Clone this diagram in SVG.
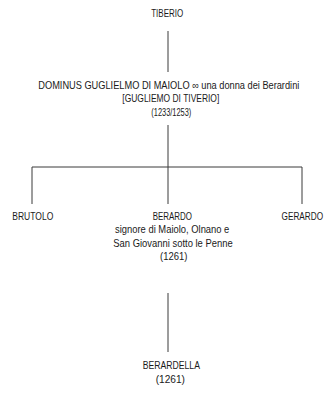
<svg xmlns="http://www.w3.org/2000/svg" width="324" height="393" viewBox="0 0 324 393">
<style>
text{font-family:"Liberation Sans",Arial,sans-serif;font-size:10.4px;fill:#1a1a1a;text-anchor:middle}
.c{stroke:#3a3a3a;stroke-width:1;fill:none}
</style>
<rect width="324" height="393" fill="#fff"/>
<g id="connectors">
<line class="c" x1="168" y1="31" x2="168" y2="72"/>
<line class="c" x1="168" y1="125" x2="168" y2="167"/>
<polyline class="c" points="32,204 32,167 302,167 302,204"/>
<line class="c" x1="168" y1="167" x2="168" y2="204"/>
<line class="c" x1="168" y1="293" x2="168" y2="352"/>
</g>
<g id="tiberio"><text x="167.2" y="17" textLength="32" lengthAdjust="spacingAndGlyphs">TIBERIO</text></g>
<g id="guglielmo">
<text transform="translate(168.8 89) scale(0.89 1)" x="0" y="0" textLength="293.3" lengthAdjust="spacingAndGlyphs">DOMINUS GUGLIELMO DI MAIOLO ∞ una donna dei Berardini</text>
<text x="170.8" y="102" textLength="97" lengthAdjust="spacingAndGlyphs">[GUGLIEMO DI TIVERIO]</text>
<text x="171.3" y="115.5" textLength="40" lengthAdjust="spacingAndGlyphs">(1233/1253)</text>
</g>
<g id="brutolo"><text x="32.8" y="219.5" textLength="41" lengthAdjust="spacingAndGlyphs">BRUTOLO</text></g>
<g id="berardo">
<text x="172.3" y="219.5" textLength="39.3" lengthAdjust="spacingAndGlyphs">BERARDO</text>
<text x="172.2" y="233" textLength="114.3" lengthAdjust="spacingAndGlyphs">signore di Maiolo, Olnano e</text>
<text x="173" y="246.5" textLength="119.3" lengthAdjust="spacingAndGlyphs">San Giovanni sotto le Penne</text>
<text x="173.7" y="260" textLength="27.3" lengthAdjust="spacingAndGlyphs">(1261)</text>
</g>
<g id="gerardo"><text transform="translate(302.3 219.5) scale(0.79 1)" x="0" y="0">GERARDO</text></g>
<g id="berardella">
<text x="171.3" y="369" textLength="57.3" lengthAdjust="spacingAndGlyphs">BERARDELLA</text>
<text x="170.3" y="382.5" textLength="29.3" lengthAdjust="spacingAndGlyphs">(1261)</text>
</g>
</svg>
